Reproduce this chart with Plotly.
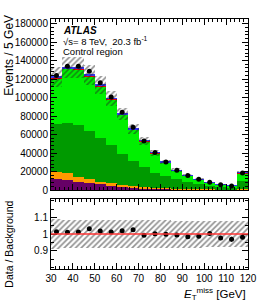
import numpy as np
import plotly.graph_objects as go

# ---------------- data ----------------
bin_lo = [30, 35, 40, 45, 50, 55, 60, 65, 70, 75, 80, 85, 90, 95, 100, 105, 110, 115]
bin_w = 5

data = [124000, 134000, 134000, 128500, 116000, 100500, 84000, 68000, 53000,
        40500, 30400, 21500, 15800, 11500, 8300, 5700, 4300, 18300]

bkg_purple = [11500, 10700, 9000, 7200, 6100, 4600, 3600, 2800, 2100,
              1600, 1200, 900, 650, 500, 350, 250, 200, 700]
bkg_orange = [7500, 8000, 4600, 4300, 2900, 2600, 2100, 1500, 1200,
              900, 700, 500, 350, 250, 200, 150, 100, 400]
bkg_darkgreen = [52000, 54100, 56600, 52300, 47600, 41800, 33700, 26700, 21700,
                 16000, 13100, 10100, 8000, 5650, 3750, 3200, 2600, 8900]
bkg_lightgreen = [49800, 58150, 60500, 59200, 55850, 49050, 41900, 34500, 27750,
                  21400, 15070, 9850, 6850, 5100, 3855, 2160, 1475, 8220]
bkg_red = [700, 750, 750, 700, 650, 550, 450, 370, 300,
           230, 170, 120, 90, 70, 50, 35, 30, 250]
bkg_blue = [900, 1000, 950, 900, 800, 700, 600, 480, 380,
            290, 220, 160, 120, 90, 65, 45, 35, 200]

# relative systematic uncertainty on total background
unc_frac = [0.088, 0.086, 0.085, 0.085, 0.084, 0.084, 0.083, 0.083, 0.082,
            0.082, 0.082, 0.081, 0.081, 0.081, 0.080, 0.080, 0.080, 0.080]

x_ticks = [30, 40, 50, 60, 70, 80, 90, 100, 110, 120]
y_ticks = [0, 20000, 40000, 60000, 80000, 100000, 120000, 140000, 160000, 180000]
r_ticks = [0.9, 1.0, 1.1]
r_ticktext = ["0.9", "1", "1.1"]

# ---------------- derived ----------------
centers = np.array(bin_lo) + bin_w / 2.0
layers = [
    (bkg_purple, "#660066"),
    (bkg_orange, "#ff9900"),
    (bkg_darkgreen, "#009a00"),
    (bkg_lightgreen, "#00f000"),
    (bkg_red, "#ee0000"),
    (bkg_blue, "#3333ff"),
]
arr = [np.array(l, dtype=float) for l, _ in layers]
total = np.sum(arr, axis=0)
d = np.array(data, dtype=float)
unc = np.array(unc_frac)
ratio = d / total
derr = np.sqrt(d)

fig = go.Figure()
base = np.zeros_like(total)
for (vals, col), a in zip(layers, arr):
    fig.add_trace(go.Bar(x=centers, y=a, base=base.copy(), width=bin_w,
                         marker=dict(color=col, line=dict(width=0)),
                         xaxis="x", yaxis="y", showlegend=False))
    base = base + a

hatch = dict(color="rgba(0,0,0,0)", line=dict(width=0),
             pattern=dict(shape="/", fgcolor="#222222", bgcolor="rgba(0,0,0,0)",
                          size=4, solidity=0.42))
fig.add_trace(go.Bar(x=centers, y=2 * unc * total, base=total * (1 - unc),
                     width=bin_w, marker=hatch, xaxis="x", yaxis="y",
                     showlegend=False))
fig.add_trace(go.Scatter(x=centers, y=d, mode="markers",
                         marker=dict(color="black", size=5),
                         error_y=dict(type="data", array=derr, color="black",
                                      thickness=1, width=0),
                         xaxis="x", yaxis="y", showlegend=False))

# ratio panel
fig.add_trace(go.Bar(x=centers, y=2 * unc, base=1 - unc, width=bin_w,
                     marker=hatch, xaxis="x2", yaxis="y2", showlegend=False))
fig.add_shape(type="line", xref="x2", yref="y2", x0=30, x1=120, y0=1, y1=1,
              line=dict(color="#ff3333", width=1.5))
fig.add_trace(go.Scatter(x=centers, y=ratio, mode="markers",
                         marker=dict(color="black", size=5),
                         error_y=dict(type="data", array=derr / total,
                                      color="black", thickness=1, width=0),
                         xaxis="x2", yaxis="y2", showlegend=False))

font = "Liberation Sans, Arial, sans-serif"
axcommon = dict(showline=True, linecolor="black", linewidth=1, mirror="allticks",
                ticks="inside", tickcolor="black", showgrid=False, zeroline=False)

fig.update_layout(
    width=266, height=301,
    margin=dict(l=51, r=9, t=19, b=32),
    paper_bgcolor="white", plot_bgcolor="white",
    barmode="overlay", bargap=0,
    font=dict(family=font, size=10, color="black"),
    xaxis=dict(domain=[0, 1], range=[30, 120], anchor="y", tickvals=x_ticks,
               showticklabels=False, ticklen=6,
               minor=dict(dtick=2, ticklen=3, ticks="inside", tickcolor="black"),
               **axcommon),
    yaxis=dict(domain=[0.316, 1], range=[0, 185000], anchor="x",
               tickvals=y_ticks, tickformat="d", ticklen=6,
               tickfont=dict(size=10),
               minor=dict(dtick=4000, ticklen=3, ticks="inside", tickcolor="black"),
               **axcommon),
    xaxis2=dict(domain=[0, 1], range=[30, 120], anchor="y2", tickvals=x_ticks,
                ticklen=6, tickfont=dict(size=10), ticklabeloverflow="allow",
                minor=dict(dtick=2, ticklen=3, ticks="inside", tickcolor="black"),
                **axcommon),
    yaxis2=dict(domain=[0, 0.28], range=[0.79, 1.21], anchor="x2",
                tickvals=r_ticks, ticktext=r_ticktext, ticklen=6,
                tickfont=dict(size=10),
                minor=dict(dtick=0.05, ticklen=3, ticks="inside", tickcolor="black"),
                **axcommon),
)

ann = [
    dict(text="<b><i>ATLAS</i></b>", x=0.053, y=0.956, size=10),
    dict(text="√s= 8 TeV,  20.3 fb<sup>-1</sup>", x=0.053, y=0.912, size=9.5),
    dict(text="Control region", x=0.053, y=0.870, size=9.5),
]
for a in ann:
    fig.add_annotation(text=a["text"], x=a["x"], y=a["y"], xref="paper", yref="paper",
                       xanchor="left", yanchor="middle", showarrow=False,
                       font=dict(size=a["size"], family=font, color="black"))

fig.add_annotation(text="Events / 5 GeV", x=-0.215, y=0.856, xref="paper",
                   yref="paper", textangle=-90, showarrow=False,
                   xanchor="center", yanchor="middle",
                   font=dict(size=12, family=font, color="black"))
fig.add_annotation(text="Data / Background", x=-0.215, y=0.1, xref="paper",
                   yref="paper", textangle=-90, showarrow=False,
                   xanchor="center", yanchor="middle",
                   font=dict(size=10.5, family=font, color="black"))
fig.add_annotation(text="<i>E</i><sub>T</sub><sup>miss</sup> [GeV]", x=1.0, y=-0.1,
                   xref="paper", yref="paper", xanchor="right", yanchor="middle",
                   showarrow=False, font=dict(size=11.5, family=font, color="black"))

fig.write_html("out.html", config={"displayModeBar": False},
               post_script="document.body.style.margin='0';document.body.style.padding='0';")
